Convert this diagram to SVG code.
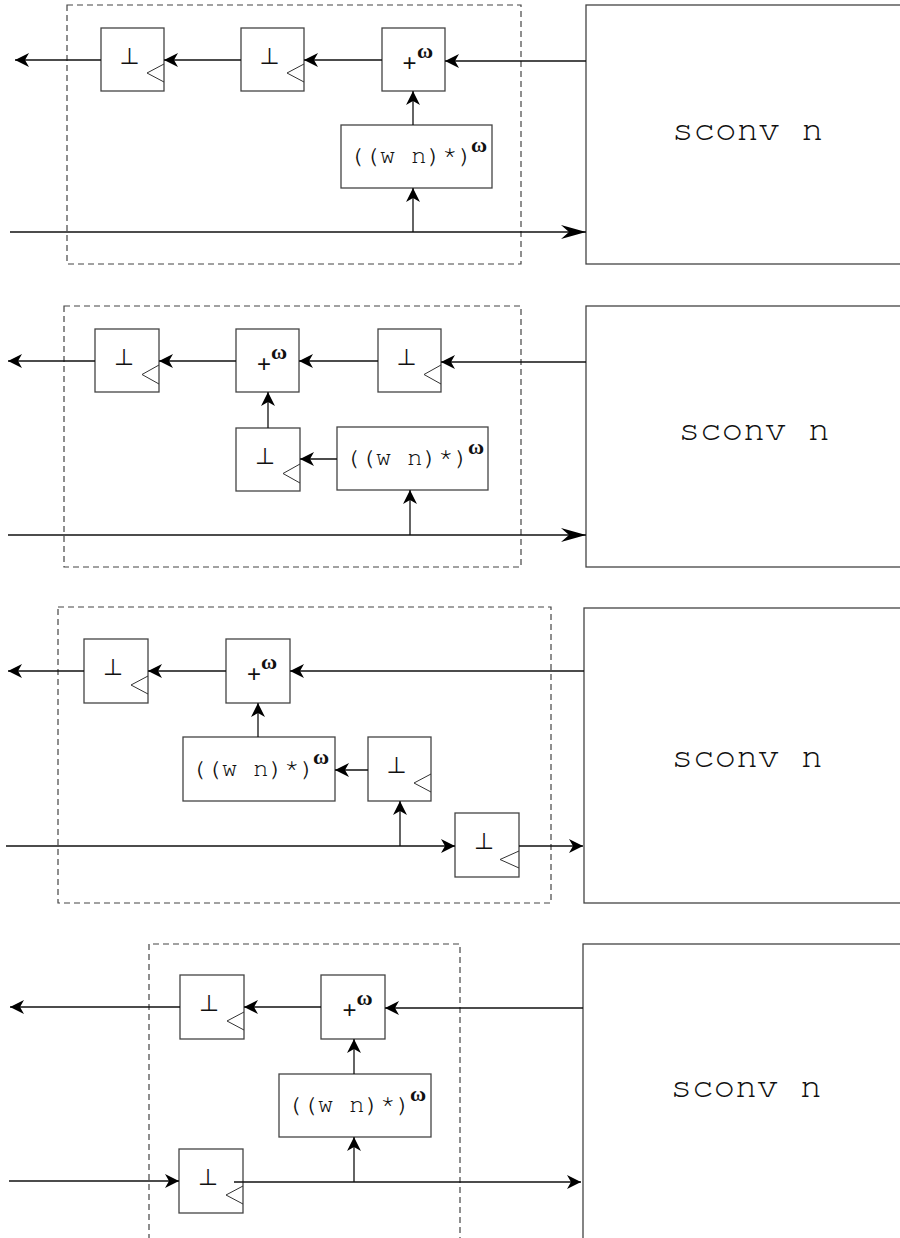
<svg xmlns="http://www.w3.org/2000/svg" width="900" height="1238" viewBox="0 0 900 1238">
<style>
.box{fill:#fff;stroke:#444;stroke-width:1.3}
.frame{fill:none;stroke:#444;stroke-width:1.2;stroke-dasharray:6,4}
.clk{fill:none;stroke:#333;stroke-width:1}
.ln{fill:none;stroke:#111;stroke-width:1.3}
.sm{marker-end:url(#ah)}
.bg{marker-end:url(#ahb)}
.bot{font-family:"DejaVu Sans",sans-serif;font-size:23px;fill:#111;text-anchor:middle}
.pl{font-family:"Liberation Sans",sans-serif;font-size:24px;fill:#111;text-anchor:middle}
.om{font-family:"Liberation Serif",serif;font-size:22px;font-weight:bold;fill:#111;text-anchor:middle}
.mono{font-family:"Nimbus Mono PS","FreeMono","Courier New","Liberation Mono",monospace;font-size:26px;fill:#111}
.sc{font-family:"Nimbus Mono PS","FreeMono","Courier New","Liberation Mono",monospace;font-size:36px;fill:#111;text-anchor:middle}
</style>
<defs>
<marker id="ah" viewBox="-15 -8 16 16" refX="0" refY="0" markerWidth="16" markerHeight="16" markerUnits="userSpaceOnUse" orient="auto">
<path d="M0,0 L-14,-7 L-10,0 L-14,7 Z" fill="#000"/>
</marker>
<marker id="ahb" viewBox="-26 -8 27 16" refX="0" refY="0" markerWidth="27" markerHeight="16" markerUnits="userSpaceOnUse" orient="auto">
<path d="M0,0 L-25,-7 L-17,0 L-25,7 Z" fill="#000"/>
</marker>
</defs>

<!-- Panel 1 -->
<g id="p1-frame"><rect class="frame" x="67" y="5" width="454" height="259"/></g>
<g id="p1-sconv"><rect class="box" x="586" y="5" width="400" height="259"/><text class="sc" x="747.5" y="140">sconv n</text></g>
<g id="p1-regA"><rect class="box" x="101" y="28" width="63" height="63"/><path class="clk" d="M164,64 L147,73 L164,82"/><text class="bot" x="129.5" y="64">⊥</text></g>
<g id="p1-regB"><rect class="box" x="241" y="28" width="63" height="63"/><path class="clk" d="M304,64 L287,73 L304,82"/><text class="bot" x="269.5" y="64">⊥</text></g>
<g id="p1-plus"><rect class="box" x="382" y="28" width="63" height="63"/><text class="pl" x="409.5" y="71">+</text><text class="om" x="425" y="58">ω</text></g>
<g id="p1-wn"><rect class="box" x="341" y="125" width="151" height="63"/><text class="mono" x="348.5" y="163">((w n)*)</text><text class="om" x="479" y="152">ω</text></g>

<!-- Panel 2 -->
<g id="p2-frame"><rect class="frame" x="64" y="306" width="457" height="261"/></g>
<g id="p2-sconv"><rect class="box" x="586" y="306" width="400" height="261"/><text class="sc" x="754" y="440">sconv n</text></g>
<g id="p2-regA"><rect class="box" x="95" y="329" width="64" height="63"/><path class="clk" d="M159,365 L142,374.5 L159,384"/><text class="bot" x="124" y="365">⊥</text></g>
<g id="p2-plus"><rect class="box" x="236" y="329" width="63" height="63"/><text class="pl" x="264" y="372">+</text><text class="om" x="279" y="359">ω</text></g>
<g id="p2-regC"><rect class="box" x="378" y="329" width="63" height="63"/><path class="clk" d="M441,365 L424,374.5 L441,384"/><text class="bot" x="406.5" y="365">⊥</text></g>
<g id="p2-regD"><rect class="box" x="236" y="428" width="64" height="63"/><path class="clk" d="M300,464 L283,473.5 L300,483"/><text class="bot" x="265" y="464">⊥</text></g>
<g id="p2-wn"><rect class="box" x="337" y="427" width="151" height="63"/><text class="mono" x="344.5" y="465">((w n)*)</text><text class="om" x="476" y="454">ω</text></g>

<!-- Panel 3 -->
<g id="p3-frame"><rect class="frame" x="58" y="607" width="493" height="296"/></g>
<g id="p3-sconv"><rect class="box" x="584" y="608" width="400" height="295"/><text class="sc" x="747" y="767">sconv n</text></g>
<g id="p3-regA"><rect class="box" x="84" y="639" width="64" height="64"/><path class="clk" d="M148,676 L131,685 L148,694"/><text class="bot" x="113" y="675">⊥</text></g>
<g id="p3-plus"><rect class="box" x="226" y="639" width="64" height="64"/><text class="pl" x="254" y="682">+</text><text class="om" x="269" y="669">ω</text></g>
<g id="p3-wn"><rect class="box" x="183" y="737" width="152" height="64"/><text class="mono" x="190.5" y="776">((w n)*)</text><text class="om" x="321" y="764">ω</text></g>
<g id="p3-regE"><rect class="box" x="368" y="737" width="63" height="64"/><path class="clk" d="M431,774 L414,783 L431,792"/><text class="bot" x="396.5" y="773">⊥</text></g>
<g id="p3-regF"><rect class="box" x="455" y="813" width="64" height="64"/><path class="clk" d="M519,851 L500,859.5 L519,868"/><text class="bot" x="484" y="849">⊥</text></g>

<!-- Panel 4 -->
<g id="p4-frame"><path class="frame" d="M149,1240 L149,944 L460,944 L460,1240"/></g>
<g id="p4-sconv"><rect class="box" x="583" y="944" width="400" height="320"/><text class="sc" x="746" y="1097">sconv n</text></g>
<g id="p4-regA"><rect class="box" x="180" y="975" width="64" height="64"/><path class="clk" d="M244,1012 L227,1021 L244,1030"/><text class="bot" x="209" y="1011">⊥</text></g>
<g id="p4-plus"><rect class="box" x="321" y="975" width="64" height="64"/><text class="pl" x="349.5" y="1018">+</text><text class="om" x="364.5" y="1005">ω</text></g>
<g id="p4-wn"><rect class="box" x="279" y="1074" width="152" height="63"/><text class="mono" x="286.5" y="1112">((w n)*)</text><text class="om" x="418" y="1101">ω</text></g>
<g id="p4-regG"><rect class="box" x="179" y="1149" width="64" height="64"/><path class="clk" d="M243,1186 L226,1195 L243,1204"/><text class="bot" x="208" y="1185">⊥</text></g>

<g id="connectors">
<!-- panel 1 -->
<path class="ln sm" d="M586,61 L445,61"/>
<path class="ln sm" d="M382,60 L304,60"/>
<path class="ln sm" d="M241,60 L164,60"/>
<path class="ln sm" d="M101,60 L15,60"/>
<path class="ln sm" d="M413,125 L413,91"/>
<path class="ln bg" d="M10,232 L586,232"/>
<path class="ln sm" d="M413,232 L413,188"/>
<!-- panel 2 -->
<path class="ln sm" d="M586,362 L441,362"/>
<path class="ln sm" d="M378,361 L299,361"/>
<path class="ln sm" d="M236,361 L159,361"/>
<path class="ln sm" d="M95,361 L8,361"/>
<path class="ln sm" d="M337,459 L300,459"/>
<path class="ln sm" d="M268,428 L268,392"/>
<path class="ln bg" d="M8,535 L586,535"/>
<path class="ln sm" d="M410,535 L410,490"/>
<!-- panel 3 -->
<path class="ln sm" d="M584,671 L290,671"/>
<path class="ln sm" d="M226,671 L148,671"/>
<path class="ln sm" d="M84,671 L8,671"/>
<path class="ln sm" d="M258,737 L258,703"/>
<path class="ln sm" d="M368,770 L335,770"/>
<path class="ln sm" d="M6,846 L455,846"/>
<path class="ln sm" d="M400,846 L400,801"/>
<path class="ln sm" d="M519,846 L583,846"/>
<!-- panel 4 -->
<path class="ln sm" d="M583,1008 L385,1008"/>
<path class="ln sm" d="M321,1007 L244,1007"/>
<path class="ln sm" d="M180,1007 L10,1007"/>
<path class="ln sm" d="M354,1074 L354,1039"/>
<path class="ln sm" d="M9,1181 L179,1181"/>
<path class="ln sm" d="M234,1182 L581,1182"/>
<path class="ln sm" d="M354,1182 L354,1137"/>
</g>
</svg>
